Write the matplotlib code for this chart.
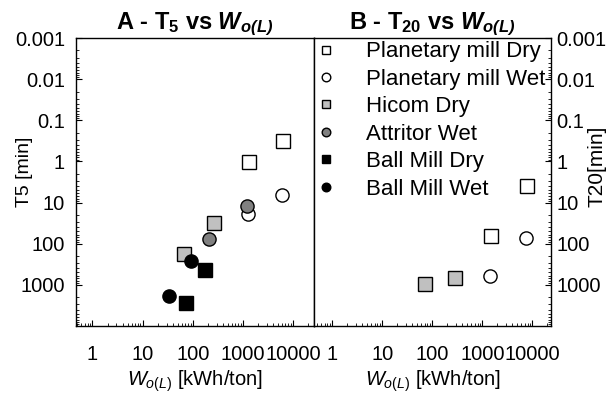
import matplotlib
matplotlib.use("Agg")
import matplotlib.pyplot as plt
from matplotlib.ticker import LogLocator, FixedLocator, FixedFormatter, NullFormatter

plt.rcParams['font.family'] = ['Liberation Sans', 'DejaVu Sans']
plt.rcParams['mathtext.fontset'] = 'custom'
plt.rcParams['mathtext.rm'] = 'Liberation Sans'
plt.rcParams['mathtext.it'] = 'Liberation Sans:italic'
plt.rcParams['mathtext.bf'] = 'Liberation Sans:bold'
plt.rcParams['mathtext.bfit'] = 'Liberation Sans:bold:italic'

# ---- data: panel A (T5) ----
a_pm_dry_x = [1310, 6200]
a_pm_dry_y = [1.04, 0.31]
a_pm_wet_x = [1240, 5900]
a_pm_wet_y = [18.7, 6.5]
a_hicom_x = [265, 68]
a_hicom_y = [32, 174]
a_attr_x = [1200, 210]
a_attr_y = [12.0, 77]
a_bm_dry_x = [175, 74]
a_bm_dry_y = [445, 2750]
a_bm_wet_x = [93, 33]
a_bm_wet_y = [270, 1900]

# ---- data: panel B (T20) ----
b_pm_dry_x = [1510, 7800]
b_pm_dry_y = [66, 3.9]
b_pm_wet_x = [1450, 7600]
b_pm_wet_y = [600, 74]
b_hicom_x = [70, 290]
b_hicom_y = [935, 680]

series_labels = ["Planetary mill Dry", "Planetary mill Wet", "Hicom Dry",
                 "Attritor Wet", "Ball Mill Dry", "Ball Mill Wet"]
x_ticks = [1, 10, 100, 1000, 10000]
x_tick_labels = ["1", "10", "100", "1000", "10000"]
y_ticks = [0.001, 0.01, 0.1, 1, 10, 100, 1000]
y_tick_labels = ["0.001", "0.01", "0.1", "1", "10", "100", "1000"]

styles = {
    "Planetary mill Dry": dict(marker='s', mfc='white'),
    "Planetary mill Wet": dict(marker='o', mfc='white'),
    "Hicom Dry": dict(marker='s', mfc='#c0c0c0'),
    "Attritor Wet": dict(marker='o', mfc='#808080'),
    "Ball Mill Dry": dict(marker='s', mfc='black'),
    "Ball Mill Wet": dict(marker='o', mfc='black'),
}
MS = 9.5
TICK_FS = 14.5

fig = plt.figure(figsize=(6.14, 3.96), dpi=100)
axA = fig.add_axes([76 / 614, 1 - 326 / 396, 238 / 614, 288 / 396])
axB = fig.add_axes([314 / 614, 1 - 326 / 396, 237 / 614, 288 / 396])

def plot_series(ax, x, y, label):
    st = styles[label]
    ax.plot(x, y, linestyle='none', marker=st['marker'], mfc=st['mfc'],
            mec='black', mew=1.0, ms=MS, label=label)

plot_series(axA, a_pm_dry_x, a_pm_dry_y, series_labels[0])
plot_series(axA, a_pm_wet_x, a_pm_wet_y, series_labels[1])
plot_series(axA, a_hicom_x, a_hicom_y, series_labels[2])
plot_series(axA, a_attr_x, a_attr_y, series_labels[3])
plot_series(axA, a_bm_dry_x, a_bm_dry_y, series_labels[4])
plot_series(axA, a_bm_wet_x, a_bm_wet_y, series_labels[5])

plot_series(axB, b_pm_dry_x, b_pm_dry_y, series_labels[0])
plot_series(axB, b_pm_wet_x, b_pm_wet_y, series_labels[1])
plot_series(axB, b_hicom_x, b_hicom_y, series_labels[2])

for ax, xlim in ((axA, (0.47, 26000)), (axB, (0.43, 23600))):
    ax.set_xscale('log')
    ax.set_yscale('log')
    ax.set_xlim(*xlim)
    ax.set_ylim(10000, 0.001)
    ax.xaxis.set_major_locator(FixedLocator(x_ticks))
    ax.xaxis.set_major_formatter(FixedFormatter(x_tick_labels))
    ax.xaxis.set_minor_locator(LogLocator(base=10, subs=range(2, 10), numticks=20))
    ax.xaxis.set_minor_formatter(NullFormatter())
    ax.yaxis.set_major_locator(FixedLocator(y_ticks))
    ax.yaxis.set_major_formatter(FixedFormatter(y_tick_labels))
    ax.yaxis.set_minor_locator(LogLocator(base=10, subs=range(2, 10), numticks=20))
    ax.yaxis.set_minor_formatter(NullFormatter())
    ax.tick_params(which='both', direction='in', labelsize=TICK_FS, top=False)
    ax.tick_params(which='major', length=4, width=0.8)
    ax.tick_params(which='minor', length=2, width=0.6)
    ax.tick_params(axis='x', pad=14)
    for sp in ax.spines.values():
        sp.set_linewidth(1.0)
    ax.set_xlabel(r'$W_{o(L)}$ [kWh/ton]', fontsize=14.5, labelpad=3)

axA.tick_params(axis='y', which='both', left=True, right=False,
                labelleft=True, labelright=False, pad=8)
axA.set_ylabel('T5 [min]', fontsize=14)
axA.yaxis.set_label_coords(-0.18, 0.535)
axA.set_title(r'A - T$_{\mathbf{5}}$ vs $\mathbfit{W}_{\mathbfit{o(L)}}$',
              fontsize=17, fontweight='bold', pad=4)

axB.tick_params(axis='y', which='both', left=False, right=True,
                labelleft=False, labelright=True, pad=4)
axB.yaxis.set_label_position('right')
axB.set_ylabel('T20[min]', fontsize=15)
axB.yaxis.set_label_coords(1.156, 0.556)
axB.set_title(r'B - T$_{\mathbf{20}}$ vs $\mathbfit{W}_{\mathbfit{o(L)}}$',
              fontsize=17, fontweight='bold', pad=4)

handles, labels = axA.get_legend_handles_labels()
axB.legend(handles, labels, loc='upper left', bbox_to_anchor=(-0.012, 1.0),
           frameon=False, fontsize=16, markerscale=0.65, handlelength=1.0,
           handletextpad=1.3, labelspacing=0.29, borderaxespad=0.0,
           borderpad=0.15)

fig.savefig('out.png', dpi=100)
